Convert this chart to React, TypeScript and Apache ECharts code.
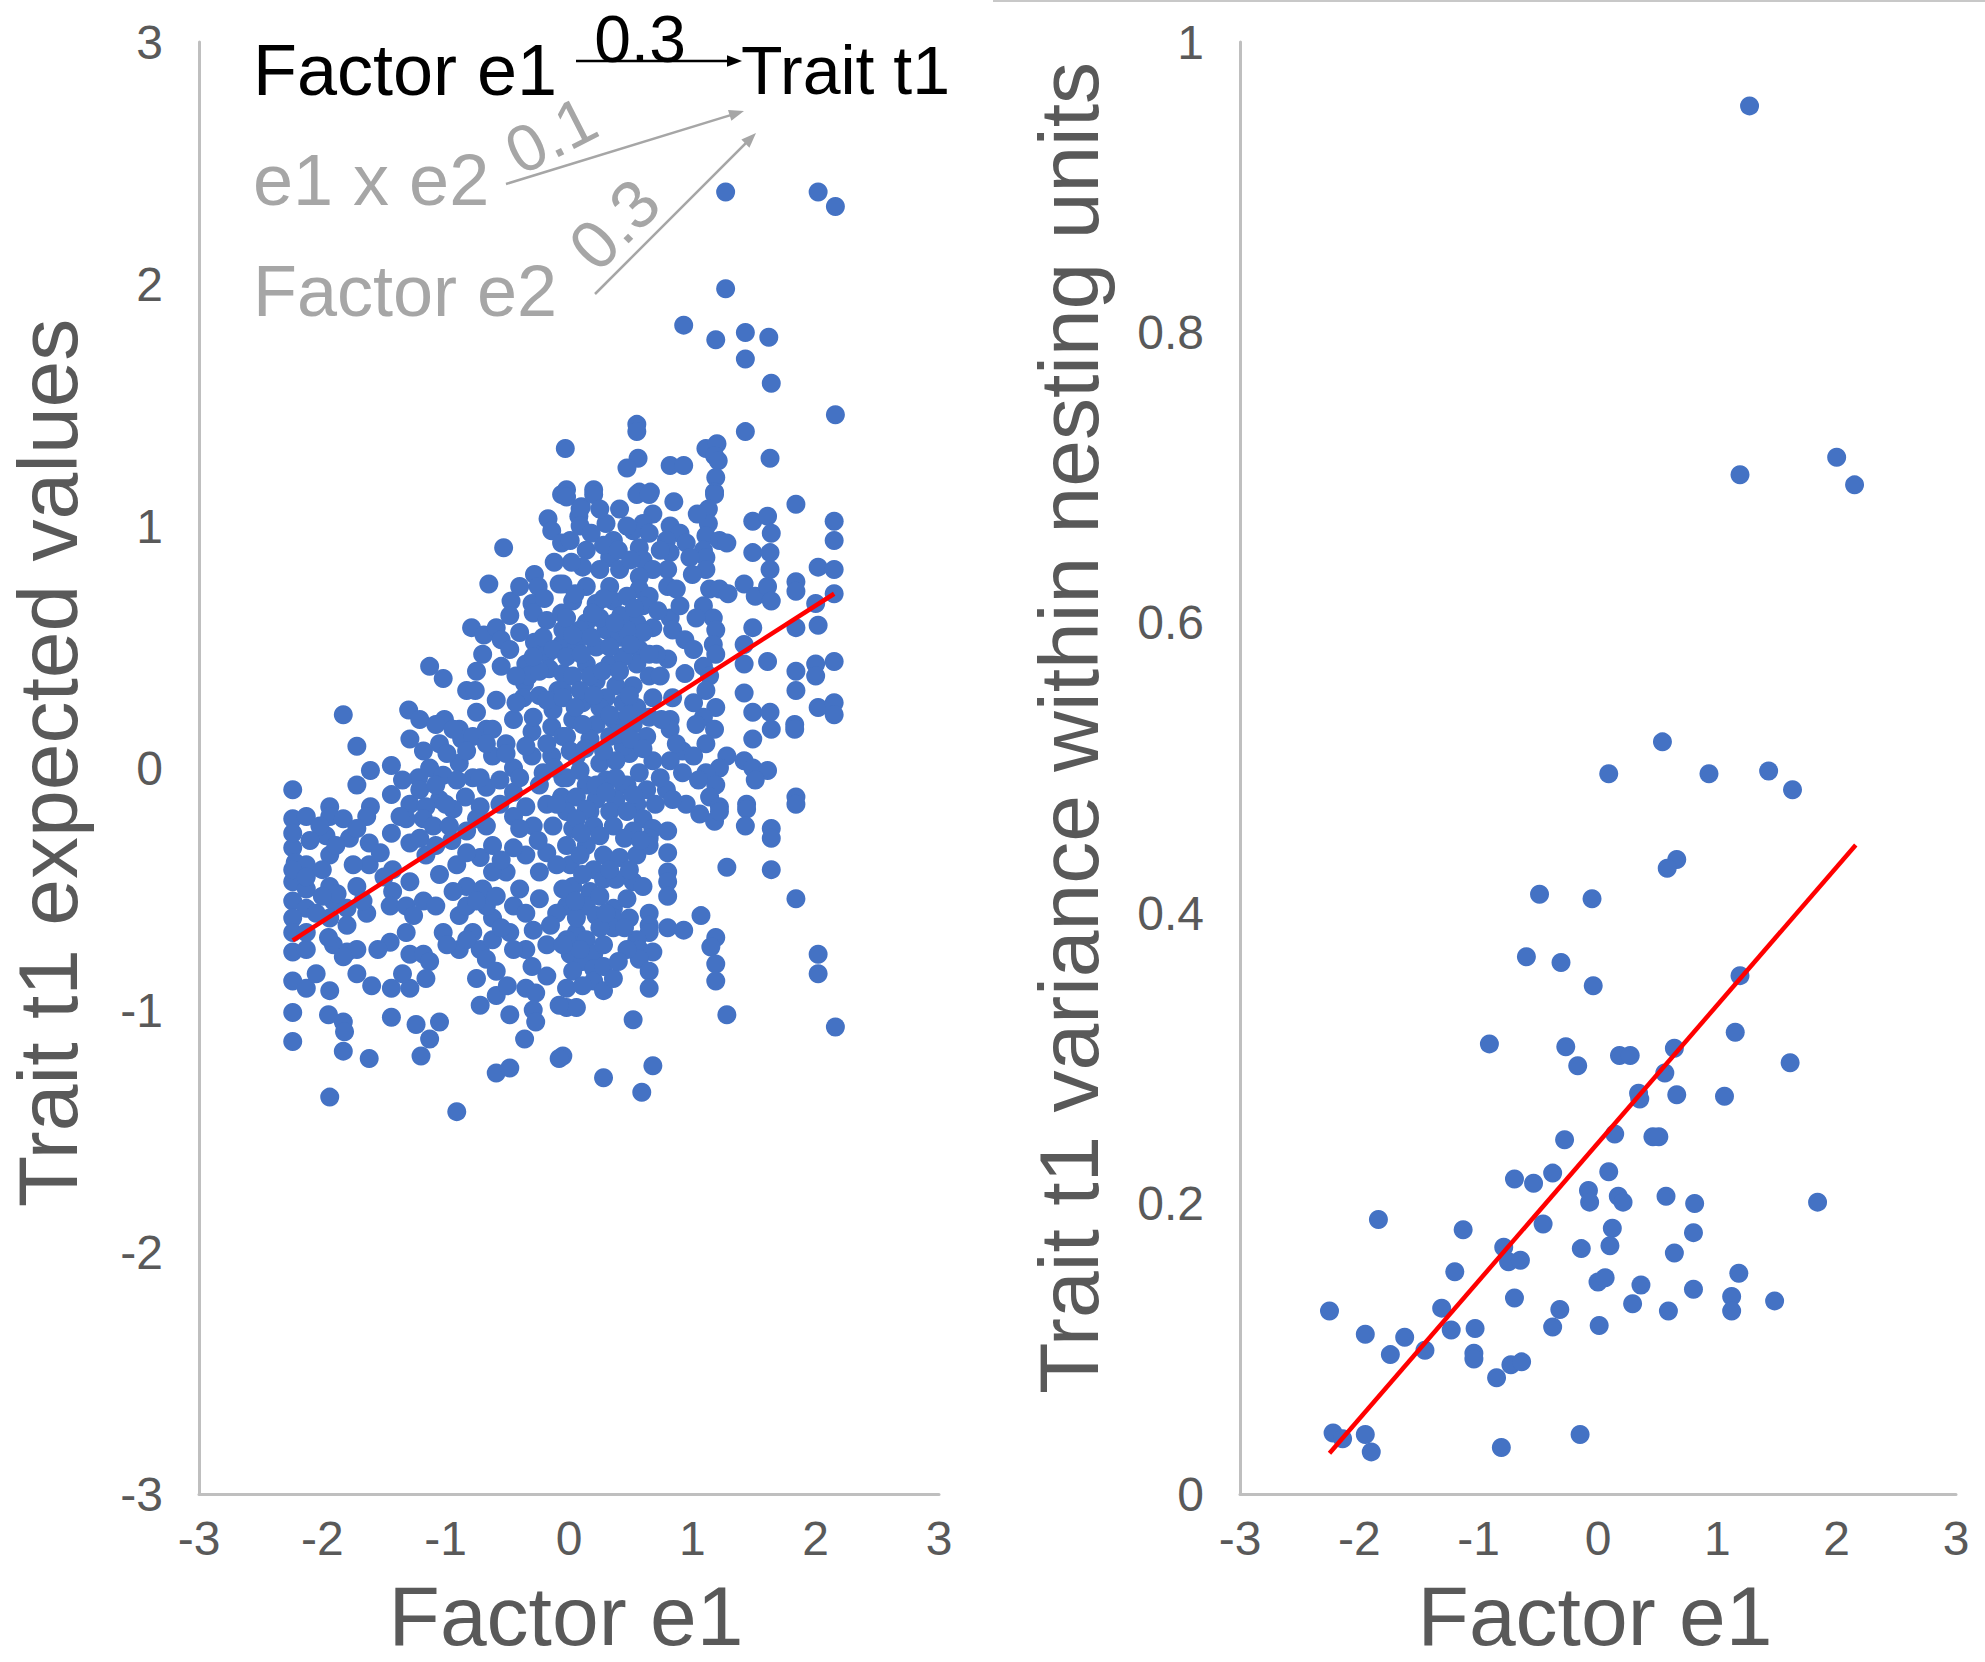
import React, { useEffect, useRef } from "react";
import * as echarts from "echarts";

const FONT = '"Liberation Sans", Arial, Helvetica, sans-serif';
const BLUE = "#4472C4";
const AXIS_GREY = "#bfbfbf";
const LABEL_GREY = "#595959";
const NOTE_GREY = "#a6a6a6";

// Left panel: Factor e1 vs Trait t1 expected values
const expectedValues: number[][] = [
  [1.27,2.38],[2.02,2.38],[2.16,2.32],[1.27,1.98],[0.93,1.83],[1.19,1.77],[1.43,1.80],[1.62,1.78],[1.43,1.69],[1.64,1.59],[2.16,1.46],[0.55,1.42],[0.55,1.39],[1.43,1.39],[-0.03,1.32],[0.56,1.28],[0.47,1.24],[0.82,1.25],[0.93,1.25],[1.11,1.32],[1.20,1.34],[1.18,1.29],[1.21,1.27],[1.19,1.20],[1.63,1.28],[-0.02,1.15],[0.20,1.15],[0.57,1.14],[0.66,1.14],[1.18,1.14],[0.10,1.08],[0.08,1.04],
  [-0.06,1.13],[-0.17,1.03],[-0.14,0.98],[-0.06,0.93],[-0.53,0.91],[-0.28,0.80],[-0.25,0.75],[-0.65,0.76],[-0.08,0.76],[-0.47,0.69],[-0.30,0.68],[-0.29,0.64],[-0.48,0.63],[-0.18,0.61],[-0.06,0.64],[-0.79,0.58],[-0.69,0.55],[-0.59,0.58],[-0.55,0.53],[-0.48,0.49],[-0.28,0.52],[-0.70,0.47],[-0.35,0.43],[-0.18,0.47],[-0.06,0.51],[-1.13,0.42],[-1.02,0.37],[-0.83,0.32],[-0.76,0.32],[-0.59,0.28],[-0.36,0.35],[-0.33,0.38],[-0.16,0.41],[-0.37,0.29],[-0.24,0.30],[-0.09,0.32],[-1.83,0.22],[-1.30,0.24],[-1.21,0.20],[-1.01,0.20],[-0.89,0.16],[-0.75,0.23],[-0.67,0.16],[-0.51,0.10],[-0.30,0.15],[-0.14,0.17],[-1.05,0.10],[-0.87,0.12],[-1.29,0.12],[-1.72,0.09],[-1.44,0.01],[-1.61,-0.01],[-1.72,-0.07],[-1.22,-0.04],[-1.13,0.00],[-1.02,-0.03],[-2.24,-0.09],[-1.44,-0.11],[-1.94,-0.16],[-1.61,-0.16],[-1.29,-0.15],[-0.89,0.02],[-0.78,-0.04],[-0.62,0.05],[-0.45,0.00],[-0.30,0.05],[-0.14,0.05],[-0.84,-0.12],[-0.67,-0.08],[-0.45,-0.10],[-0.24,-0.07],[-0.06,-0.12],[-1.05,-0.13],
  [-1.08,0.18],[-0.94,0.16],[-0.78,0.13],[-0.62,0.16],[-0.45,0.20],[-0.29,0.21],[-0.13,0.24],[-1.18,0.07],[-0.99,0.06],[-0.83,0.07],[-0.67,0.10],[-0.51,0.06],[-0.35,0.09],[-0.18,0.10],[-0.05,0.13],[-1.21,-0.09],[-1.08,-0.07],[-0.91,-0.05],[-0.72,-0.04],[-0.56,-0.05],[-0.40,-0.04],[-0.21,-0.02],[-0.05,-0.04],[-1.16,-0.16],[-0.94,-0.17],[-0.72,-0.16],[-0.56,-0.15],[-0.35,-0.16],[-0.18,-0.15],[-0.40,0.56],[-0.21,0.54],[-0.05,0.57],[-0.43,0.38],[-0.24,0.40],[-0.05,0.39],[-0.43,0.27],[-0.18,0.28],[-0.05,0.32],[-0.13,0.49],[-0.29,0.46],
  [1.84,1.09],[2.15,1.02],[2.15,0.94],[1.49,1.02],[1.61,1.04],[1.64,0.97],[1.49,0.89],[1.63,0.89],[1.63,0.82],[2.02,0.83],[2.15,0.82],[1.84,0.77],[1.84,0.73],[2.15,0.72],[1.42,0.76],[1.51,0.71],[1.61,0.75],[1.64,0.69],[2.00,0.68],[2.02,0.59],[1.84,0.58],[1.49,0.58],[1.42,0.51],[1.61,0.44],[1.42,0.43],[1.84,0.40],[2.00,0.43],[2.15,0.44],[2.00,0.38],[1.84,0.32],[1.42,0.31],[2.02,0.25],[2.15,0.27],[2.15,0.22],[1.49,0.23],[1.63,0.23],[1.64,0.16],[1.49,0.12],[1.83,0.18],[1.83,0.16],[1.42,0.03],[1.49,0.00],[1.61,-0.01],[1.51,-0.05],[1.84,-0.12],[1.44,-0.15],
  [1.18,1.13],[1.13,1.07],[1.13,1.01],[1.11,0.96],[1.22,0.94],[1.28,0.93],[1.09,0.90],[1.11,0.87],[1.11,0.82],[1.14,0.74],[1.22,0.74],[1.29,0.72],[1.09,0.67],[1.17,0.62],[1.19,0.57],[1.17,0.51],[1.19,0.47],[1.09,0.42],[1.14,0.38],[1.11,0.32],[1.19,0.25],[1.09,0.21],[1.18,0.16],[1.11,0.10],[1.28,0.05],[1.22,0.00],[1.11,-0.02],[1.19,-0.07],[1.14,-0.12],[1.22,-0.16],
  [0.82,1.00],[0.90,0.97],[0.95,0.93],[0.79,0.94],[0.82,0.89],[0.80,0.82],[0.80,0.75],[0.82,0.62],[0.84,0.57],[0.94,0.53],[0.80,0.45],[0.94,0.39],[0.82,0.20],[0.82,0.16],[0.92,0.07],[0.82,0.03],[0.92,-0.02],[0.79,-0.09],[0.95,-0.15],
  [0.55,1.13],[0.65,1.13],[0.68,1.05],[0.60,1.01],[0.52,0.98],[0.65,0.97],[0.57,0.91],[0.60,0.86],[0.68,0.82],[0.57,0.79],[0.57,0.74],[0.65,0.71],[0.60,0.67],[0.47,0.62],[0.55,0.60],[0.68,0.58],[0.60,0.56],[0.57,0.49],[0.71,0.47],[0.55,0.43],[0.65,0.38],[0.52,0.34],[0.68,0.29],[0.55,0.25],[0.65,0.21],[0.52,0.18],[0.63,0.13],[0.49,0.06],[0.68,0.03],[0.57,-0.02],[0.47,-0.07],[0.63,-0.09],[0.55,-0.15],
  [-0.02,1.12],[0.09,1.07],[0.20,1.13],[0.01,0.94],[0.14,0.90],[0.30,1.01],[0.36,0.94],[0.33,0.87],[0.25,0.82],[-0.05,0.76],[0.14,0.75],[0.33,0.75],[0.03,0.69],[0.22,0.68],[0.36,0.69],[-0.02,0.62],[0.14,0.60],[0.30,0.57],[0.41,0.54],[0.06,0.51],[0.22,0.50],[-0.02,0.46],[0.14,0.43],[0.33,0.43],[0.44,0.46],[0.03,0.38],[0.22,0.36],[0.38,0.34],[-0.05,0.29],[0.11,0.27],[0.30,0.29],[0.44,0.27],[0.03,0.20],[0.22,0.18],[0.36,0.20],[-0.02,0.13],[0.17,0.12],[0.33,0.13],[0.44,0.09],[0.06,0.05],[0.25,0.02],[0.38,0.03],[-0.02,-0.04],[0.14,-0.07],[0.30,-0.05],[0.44,-0.07],[0.06,-0.12],[0.22,-0.13],[0.38,-0.13],
  [0.09,1.00],[0.25,1.07],[0.41,1.07],[0.47,1.00],[0.11,0.83],[0.41,0.82],[0.47,0.71],[0.09,0.57],[0.47,0.57],[0.25,0.62],[0.17,0.38],[0.33,0.50],[0.09,0.32],[0.25,0.25],[0.41,0.18],[0.11,0.18],[0.28,0.07],[0.09,-0.01],[0.22,-0.07],[0.38,-0.04],[0.87,0.74],[0.90,0.67],[1.01,0.49],[0.84,0.29],[1.01,0.27],[0.87,0.10],[1.01,0.05],[0.74,-0.04],[0.84,-0.13],[1.03,0.18],[0.74,0.38],[0.74,0.90],[0.98,0.87],[1.03,0.62],[0.01,0.07],[0.17,-0.18],
  [-0.02,-0.18],[0.14,-0.17],[0.33,-0.18],[0.47,-0.18],[0.60,-0.21],[0.68,-0.25],[0.03,-0.25],[0.20,-0.24],[0.36,-0.24],[0.52,-0.26],[0.65,-0.29],[-0.02,-0.32],[0.14,-0.32],[0.28,-0.36],[0.41,-0.37],[0.55,-0.36],[0.65,-0.32],[0.01,-0.40],[0.20,-0.42],[0.03,-0.49],[0.17,-0.51],[0.28,-0.46],[0.38,-0.46],[0.52,-0.47],[0.60,-0.49],[-0.02,-0.57],[0.14,-0.57],[0.22,-0.61],[0.36,-0.58],[0.36,-0.62],[0.36,-0.66],[0.65,-0.60],[0.65,-0.65],[0.65,-0.68],[0.06,-0.68],[-0.02,-0.71],[0.14,-0.71],[0.55,-0.71],[0.57,-0.75],[0.68,-0.76],[0.57,-0.79],[0.01,-0.77],[0.11,-0.80],[0.20,-0.77],[0.03,-0.84],[0.20,-0.83],[0.20,-0.88],[0.28,-0.92],[0.65,-0.84],[0.65,-0.91],[-0.02,-0.99],[0.06,-0.99],[0.52,-1.04],[-0.05,-1.19],[0.28,-1.28],[0.68,-1.23],[0.59,-1.34],
  [0.80,-0.26],[0.80,-0.35],[0.80,-0.43],[0.80,-0.47],[0.80,-0.53],[0.80,-0.66],[0.93,-0.67],[1.07,-0.61],[1.19,-0.70],[1.15,-0.74],[1.19,-0.81],[1.19,-0.88],[1.28,-1.02],[1.28,-0.41],[1.44,-0.17],[1.43,-0.24],[1.64,-0.25],[1.64,-0.29],[1.64,-0.42],[1.84,-0.54],[2.02,-0.77],[2.02,-0.85],[2.16,-1.07],[1.06,-0.19],[1.18,-0.22],[1.22,-0.18],[1.84,-0.15],
  [0.06,-0.21],[0.25,-0.28],[0.09,-0.36],[0.33,-0.42],[0.49,-0.42],[0.11,-0.44],[0.25,-0.53],[0.47,-0.54],[0.06,-0.62],[0.25,-0.66],[0.49,-0.62],[0.09,-0.75],[0.28,-0.73],[0.47,-0.75],[0.28,-0.82],[0.36,-0.87],[-0.02,-0.91],[0.11,-0.90],
  [-2.24,-0.21],[-2.13,-0.20],[-1.94,-0.20],[-1.83,-0.21],[-1.64,-0.20],[-1.97,-0.28],[-1.78,-0.29],[-1.62,-0.31],[-2.24,-0.33],[-1.94,-0.36],[-1.62,-0.40],[-2.22,-0.39],[-2.13,-0.40],[-2.24,-0.47],[-2.13,-0.50],[-1.94,-0.49],[-1.72,-0.49],[-2.24,-0.55],[-2.13,-0.58],[-1.91,-0.55],[-1.80,-0.58],[-1.64,-0.60],[-1.94,-0.62],[-2.24,-0.76],[-2.13,-0.75],[-1.91,-0.73],[-1.80,-0.76],[-1.72,-0.75],[-1.83,-0.78],[-1.72,-0.85],[-2.24,-0.88],[-2.13,-0.91],[-1.94,-0.92],[-2.24,-1.01],[-1.95,-1.02],[-1.83,-1.05],[-1.82,-1.09],[-2.24,-1.13],[-1.83,-1.17],[-1.62,-1.20],[-1.94,-1.36],
  [-1.44,-0.27],[-1.43,-0.42],[-1.43,-0.51],[-1.45,-0.57],[-1.45,-0.72],[-1.44,-0.91],[-1.44,-1.03],[-1.29,-0.31],[-1.29,-0.47],[-1.32,-0.57],[-1.26,-0.61],[-1.32,-0.68],[-1.29,-0.77],[-1.18,-0.77],[-1.13,-0.80],[-1.16,-0.87],[-1.29,-0.91],[-1.24,-1.06],[-1.13,-1.12],[-1.05,-1.05],[-1.20,-1.19],[-0.91,-1.42],[-1.32,-0.21],[-1.18,-0.21],[-1.10,-0.24],[-1.16,-0.36],[-1.05,-0.44],[-1.18,-0.55],[-1.02,-0.68],[-0.89,-0.61],[-0.89,-0.75],[-0.72,-0.75],[-0.67,-0.79],[-0.59,-0.84],[-0.75,-0.87],[-0.72,-0.98],[-0.59,-0.94],[-0.48,-1.02],[-0.35,-0.91],[-0.27,-0.93],[-0.29,-1.00],[-0.27,-1.05],[-0.36,-1.12],[-0.59,-1.26],[-0.48,-1.24],[-0.48,-0.68],[-0.29,-0.67],[-0.35,-0.75],[-0.18,-0.73],[-0.18,-0.86],[-0.08,-0.98],[-0.08,-1.20],[-0.10,-0.60],[-0.24,-0.54],[-0.78,-0.68],[-0.62,-0.62],[-0.83,-0.49],[-0.72,-0.37],[-0.67,-0.57],[-0.45,-0.57],[-0.51,-0.43],[-0.35,-0.36],[-0.18,-0.35],[-0.13,-0.24],[-0.83,-0.26],[-0.67,-0.24],[-0.45,-0.20],[-0.29,-0.24],[-0.91,-0.40],[-0.62,-0.32],
  [-2.02,-0.24],[-1.89,-0.32],[-1.72,-0.25],[-1.53,-0.35],[-1.37,-0.20],[-1.21,-0.29],[-1.08,-0.32],[-0.97,-0.24],[-0.83,-0.35],[-0.75,-0.21],[-0.62,-0.43],[-0.45,-0.33],[-0.40,-0.50],[-0.24,-0.43],[-0.10,-0.40],[-0.70,-0.50],[-0.94,-0.51],[-1.08,-0.57],[-0.83,-0.57],[-0.59,-0.53],[-0.05,-0.50],[-0.99,-0.73],[-0.83,-0.71],[-0.62,-0.71],[-0.45,-0.75],[-0.05,-0.73],
  [-2.24,-0.62],[-2.24,-0.68],[-2.24,-0.42],[-2.13,-0.45],[-2.13,-0.68],[-2.24,-0.27],[-2.00,-0.42],[-1.88,-0.52],[-1.75,-0.40],[-1.67,-0.55],[-1.80,-0.65],[-2.05,-0.60],[-1.95,-0.70],
  [0.02,0.85],[0.18,0.97],[0.28,0.92],[0.40,0.90],[0.50,0.86],[0.05,0.72],[0.19,0.64],[0.28,0.70],[0.42,0.63],[0.53,0.66],[0.03,0.55],[0.18,0.54],[0.37,0.60],[0.50,0.51],[0.10,0.47],[0.27,0.40],[0.41,0.40],[0.49,0.30],[0.20,0.30],[0.05,0.25],[0.33,0.22],[0.48,0.22],[0.13,0.08],[0.40,0.14],[0.50,0.12],[0.60,0.08],[0.30,-0.10],[0.52,-0.11],[0.10,-0.27],[0.45,-0.29],[0.58,-0.30],[0.30,-0.60],[0.45,-0.66],[0.40,-0.80],[0.05,-0.55],[-0.10,-0.15],[-0.12,0.00],[-0.25,-0.30],[-0.40,-0.25],[-0.55,-0.38],[-0.15,-0.65],[-0.35,-0.60],[-0.55,-0.66],[-0.30,-0.82],[-0.50,-0.90],[-0.75,-0.55],[-0.95,-0.30],[-1.00,-0.15],[-1.35,-0.05],[-1.50,-0.45],[-1.55,-0.75],[-1.60,-0.90],[-2.05,-0.85],[-2.00,-0.53],[-2.10,-0.30],[-1.35,-0.85],[-0.75,0.40],[-0.55,0.42],[-0.20,0.70],[-0.40,0.75],[-0.12,0.85],[0.65,0.47],[0.72,0.65],[0.75,0.20],[0.70,-0.15],[1.05,-0.05],[1.00,0.80],[1.04,1.05],[0.85,1.10]
];

// Right panel: Factor e1 vs Trait t1 variance within nesting units
const varianceValues: number[][] = [
  [1.27,0.956],[1.19,0.702],[2.00,0.714],[2.15,0.695],
  [0.54,0.518],[0.09,0.496],[0.93,0.496],[1.43,0.498],[1.63,0.485],[0.66,0.437],[0.58,0.431],[-0.49,0.413],[-0.05,0.410],[-0.60,0.370],[-0.31,0.366],[-0.04,0.350],[1.19,0.357],[-0.91,0.310],[-0.27,0.308],[-0.17,0.295],[0.18,0.302],[0.27,0.302],[0.64,0.307],[1.15,0.318],[1.61,0.297],[0.56,0.290],[0.34,0.276],[0.35,0.272],[0.66,0.275],[1.06,0.274],[-0.28,0.244],[0.14,0.248],[0.46,0.246],[0.51,0.246],[-0.70,0.217],[-0.54,0.214],[-0.38,0.221],[0.09,0.222],[-0.08,0.209],[-0.07,0.201],[0.17,0.205],[0.21,0.201],[0.57,0.205],[0.81,0.200],[1.84,0.201],[-1.84,0.189],[-1.13,0.182],[-0.46,0.186],[0.12,0.183],[0.80,0.180],[-0.79,0.170],[-0.75,0.160],[-0.65,0.161],[-0.14,0.169],[0.10,0.171],[0.64,0.166],[-1.20,0.153],[0.00,0.146],[0.06,0.149],[0.36,0.144],[0.80,0.141],[1.18,0.152],[-1.31,0.128],[-0.70,0.135],[-0.32,0.127],[0.29,0.131],[0.59,0.126],[1.12,0.136],[1.12,0.126],[1.48,0.133],[-2.25,0.126],[-1.95,0.110],[-1.62,0.108],[-1.23,0.113],[-1.03,0.114],[-0.38,0.115],[0.01,0.116],[-1.74,0.096],[-1.45,0.099],[-1.04,0.097],[-1.04,0.093],[-0.73,0.089],[-0.64,0.091],[-0.85,0.080],[-2.22,0.042],[-2.14,0.038],[-1.95,0.041],[-1.90,0.029],[-0.81,0.032],[-0.15,0.041]
];

const expectedTrend: number[][] = [[-2.24,-0.712],[2.15,0.72]];
const varianceTrend: number[][] = [[-2.25,0.028],[2.16,0.447]];

const xTitle = "Factor e1";
const leftYTitle = "Trait t1 expected values";
const rightYTitle = "Trait t1 variance within nesting units";
const pathLabels = { main: "0.3", interaction: "0.1", second: "0.3" };
const pathNodes = { source: "Factor e1", target: "Trait t1", interaction: "e1 x e2", second: "Factor e2" };

function arrow(x1: number, y1: number, x2: number, y2: number, color: string, width: number, head: number) {
  const dx = x2 - x1, dy = y2 - y1;
  const len = Math.sqrt(dx * dx + dy * dy);
  const ux = dx / len, uy = dy / len;
  const bx = x2 - ux * head, by = y2 - uy * head;
  const hw = head * 0.38;
  return [
    { type: "line", silent: true, shape: { x1, y1, x2: bx + ux * 1, y2: by + uy * 1 }, style: { stroke: color, lineWidth: width } },
    { type: "polygon", silent: true, shape: { points: [[x2, y2], [bx - uy * hw, by + ux * hw], [bx + uy * hw, by - ux * hw]] }, style: { fill: color } },
  ];
}

function text(t: string, x: number, y: number, size: number, color: string, align: string, rotation = 0) {
  return {
    type: "text", silent: true, x, y, rotation,
    style: { text: t, fill: color, fontSize: size, fontFamily: FONT, align, verticalAlign: "middle" },
  };
}

function valueAxis(gridIndex: number, min: number, max: number, interval: number, isX: boolean) {
  return {
    type: "value", gridIndex, min, max, interval,
    axisLine: { show: true, onZero: false, lineStyle: { color: AXIS_GREY, width: 3 } },
    axisTick: { show: false },
    splitLine: { show: false },
    axisLabel: { color: LABEL_GREY, fontSize: 48, fontFamily: FONT, margin: isX ? 20 : 36 },
  };
}

export default function App() {
  const ref = useRef<HTMLDivElement>(null);
  useEffect(() => {
    if (!ref.current) return;
    const chart = echarts.init(ref.current, null, { renderer: "svg" });
    chart.setOption({
      animation: false,
      backgroundColor: "#ffffff",
      grid: [
        { left: 199, top: 42, width: 740, height: 1452 },
        { left: 1240, top: 42, width: 716, height: 1452 },
      ],
      xAxis: [valueAxis(0, -3, 3, 1, true), valueAxis(1, -3, 3, 1, true)],
      yAxis: [valueAxis(0, -3, 3, 1, false), valueAxis(1, 0, 1, 0.2, false)],
      series: [
        { type: "scatter", xAxisIndex: 0, yAxisIndex: 0, data: expectedValues, symbol: "circle", symbolSize: 19, itemStyle: { color: BLUE, opacity: 1 }, silent: true },
        { type: "scatter", xAxisIndex: 1, yAxisIndex: 1, data: varianceValues, symbol: "circle", symbolSize: 19, itemStyle: { color: BLUE, opacity: 1 }, silent: true },
        { type: "line", xAxisIndex: 0, yAxisIndex: 0, data: expectedTrend, showSymbol: false, symbol: "none", lineStyle: { color: "#ff0000", width: 4.5 }, silent: true, z: 5 },
        { type: "line", xAxisIndex: 1, yAxisIndex: 1, data: varianceTrend, showSymbol: false, symbol: "none", lineStyle: { color: "#ff0000", width: 4.5 }, silent: true, z: 5 },
      ],
      graphic: [
        { type: "line", silent: true, shape: { x1: 993, y1: 1, x2: 1985, y2: 1 }, style: { stroke: "#c8c8c8", lineWidth: 2 } },
        text(leftYTitle, 48, 763, 84, LABEL_GREY, "center", Math.PI / 2),
        text(rightYTitle, 1069, 728, 84, LABEL_GREY, "center", Math.PI / 2),
        text(xTitle, 566, 1616, 84, LABEL_GREY, "center"),
        text(xTitle, 1595, 1616, 84, LABEL_GREY, "center"),
        text(pathNodes.source, 253, 70, 72, "#000000", "left"),
        text(pathNodes.target, 741, 70, 68, "#000000", "left"),
        text(pathLabels.main, 640, 39, 66, "#000000", "center"),
        ...arrow(576, 61, 742, 61, "#000000", 2.5, 15),
        text(pathNodes.interaction, 253, 180, 72, NOTE_GREY, "left"),
        text(pathNodes.second, 253, 291, 72, NOTE_GREY, "left"),
        ...arrow(506, 184, 744, 111, NOTE_GREY, 2.5, 15),
        ...arrow(595, 294, 756, 133, NOTE_GREY, 2.5, 15),
        text(pathLabels.interaction, 551, 135, 66, NOTE_GREY, "center", (27 * Math.PI) / 180),
        text(pathLabels.second, 614, 224, 68, NOTE_GREY, "center", (45 * Math.PI) / 180),
      ],
    });
    return () => chart.dispose();
  }, []);
  return (
    <div
      ref={ref}
      style={{ position: "fixed", left: 0, top: 0, width: 1985, height: 1662, background: "#fff" }}
    />
  );
}
